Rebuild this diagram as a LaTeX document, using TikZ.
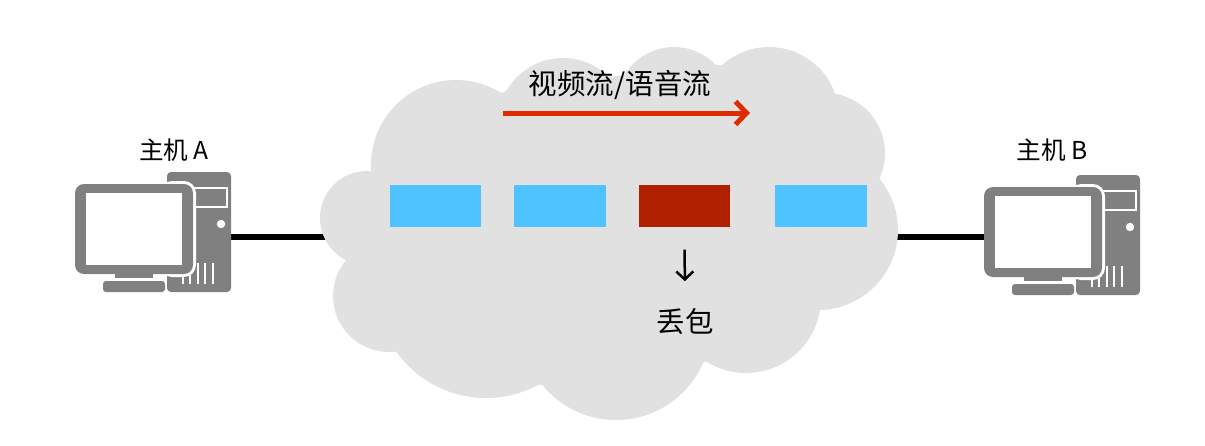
\documentclass[tikz,border=0pt]{standalone}
\usepackage{fontspec}
\usetikzlibrary{arrows.meta}
\setmainfont{Noto Sans CJK SC}
\definecolor{cloudgray}{HTML}{E1E1E1}
\definecolor{hostgray}{HTML}{808080}
\definecolor{pktblue}{HTML}{4FC3FF}
\definecolor{pktred}{HTML}{B02000}
\definecolor{flowred}{HTML}{DD2C00}
\tikzset{
    pkt/.style={minimum width=0.91cm,minimum height=0.42cm,inner sep=0pt,fill=pktblue},
    hostlabel/.style={inner sep=0pt,font=\fontsize{7pt}{8pt}\selectfont},
    cloudlabel/.style={inner sep=0pt,font=\fontsize{8.1pt}{10pt}\selectfont},
    cable/.style={line width=0.055cm,black},
    pics/computer/.style={code={
        \fill[hostgray,rounded corners=0.04cm] (167,172) rectangle (231,292);
        \draw[white,line width=0.025cm] (193,188) rectangle (227,207);
        \fill[white] (221,224) circle (0.042cm);
        \foreach \vx in {183,190,198,205,213}
            \draw[white,line width=0.025cm] (\vx,263) -- (\vx,284);
        \fill[white,rounded corners=0.12cm] (160,181) rectangle (196,277);
        \fill[hostgray,rounded corners=0.09cm] (75,184) rectangle (193,274);
        \fill[white] (86,193) rectangle (182,265);
        \fill[hostgray] (115,274) rectangle (153,278);
        \fill[hostgray,rounded corners=0.03cm] (103,292) -- (103,281) -- (165,281) -- (165,292) -- cycle;
    }},
}
\begin{document}
\begin{tikzpicture}[x=0.01cm,y=-0.01cm]
    \useasboundingbox (0,0) rectangle (1205,445);
    \coordinate (portA) at (231,237);
    \coordinate (cloudL) at (330,237);
    \coordinate (cloudR) at (890,237);
    \coordinate (portB) at (985,237);
    \draw[cable] (portA) -- (cloudL);
    \draw[cable] (cloudR) -- (portB);
    % cloud
    \fill[cloudgray] (372,170) -- (507,90) -- (624,75) -- (719,65) -- (832,93) -- (880,178)
        -- (821,305) -- (702,363) -- (540,385) -- (398,352) -- (348,265) -- cycle;
    \foreach \cx/\cy/\cr in {456/165/85,563/123/65,674/105/58,769/117/70,825/153/60,818/230/80,
        746/298/75,616/325/95,486/288/110,389/296/56,367/218/47}
        \fill[cloudgray] (\cx,\cy) circle (\cr*0.01cm);
    \pic at (0,0) {computer};
    \pic at (909,3) {computer};
    \node[hostlabel] (hostA) at (174,150) {主机 A};
    \node[hostlabel] (hostB) at (1052,150) {主机 B};
    \node[cloudlabel] (flow) at (620,85) {视频流/语音流};
    \coordinate (flowS) at (503,113);
    \coordinate (flowE) at (750,113);
    \draw[flowred,line width=0.05cm,-{Straight Barb[length=0.11cm,width=0.23cm,line width=0.05cm]}] (flowS) -- (flowE);
    \node[pkt] (pkt1) at (435.5,206) {};
    \node[pkt] (pkt2) at (560,206) {};
    \node[pkt,fill=pktred] (pkt3) at (684.5,206) {};
    \node[pkt] (pkt4) at (821,206) {};
    \node[cloudlabel] (lost) at (685,322) {丢包};
    \draw[line width=0.025cm,-{Straight Barb[length=0.08cm,width=0.17cm,line width=0.025cm]},shorten <=0.22cm,shorten >=0.27cm] (pkt3.south) -- (lost.north);
\end{tikzpicture}
\end{document}
